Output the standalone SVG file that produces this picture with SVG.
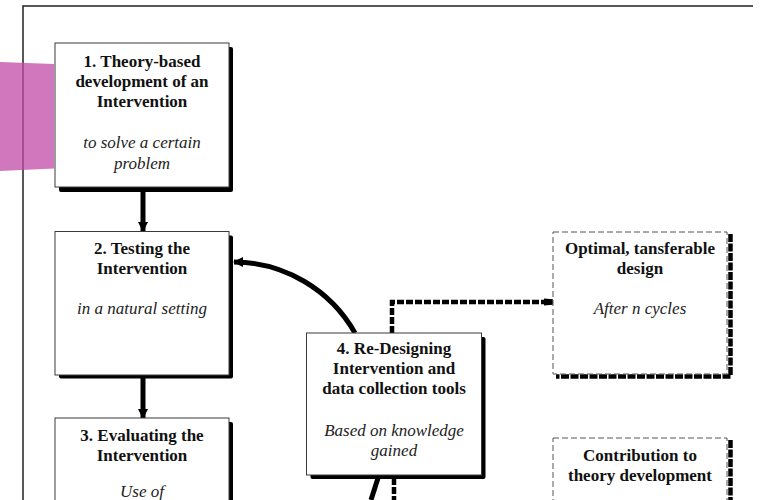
<svg xmlns="http://www.w3.org/2000/svg" width="761" height="500" viewBox="0 0 761 500">
  <defs>
    <style>
      .frame { fill: none; stroke: #222; stroke-width: 1.5; }
      .shadow { fill: #000; }
      .box { fill: #fff; stroke: #3a3a3a; stroke-width: 1; }
      .dbox { fill: #fff; stroke: #555; stroke-width: 1; stroke-dasharray: 6 3; }
      .dshadow { fill: none; stroke: #000; stroke-width: 4.5; stroke-dasharray: 8 1.5; stroke-linejoin: round; }
      .title { font-family: "Liberation Serif", "Times New Roman", serif; font-size: 17px; font-weight: bold; fill: #111; text-anchor: middle; }
      .sub { font-family: "Liberation Serif", "Times New Roman", serif; font-size: 17px; font-style: italic; fill: #222; text-anchor: middle; }
      .link { fill: none; stroke: #000; stroke-width: 5; }
      .dlink { fill: none; stroke: #000; stroke-width: 4.5; stroke-dasharray: 7 2; }
    </style>
    <marker id="head" viewBox="0 0 10 10" refX="9" refY="5" markerUnits="userSpaceOnUse" markerWidth="10" markerHeight="10" orient="auto">
      <path d="M0,0 L10,5 L0,10 z" fill="#000"/>
    </marker>
    <marker id="sq" viewBox="0 0 10 10" refX="9" refY="5" markerUnits="userSpaceOnUse" markerWidth="9" markerHeight="9" orient="auto">
      <path d="M0,1 L10,2 L10,8 L0,9 z" fill="#000"/>
    </marker>
  </defs>

  <rect width="761" height="500" fill="#fff"/>

  <!-- page frame -->
  <path class="frame" d="M23,500 V6 H753"/>

  <!-- side tab -->
  <path d="M0,62 L54,64 L54,168.5 L0,171 z" fill="#c04aa8" fill-opacity="0.75"/>

  <!-- connectors -->
  <g id="connectors">
    <line class="link" x1="143" y1="190" x2="143" y2="231" marker-end="url(#head)"/>
    <line class="link" x1="143" y1="378" x2="143" y2="418" marker-end="url(#head)"/>
    <path class="link" d="M355,333 A140,140 0 0 0 234,262" marker-end="url(#head)"/>
    <path class="dlink" d="M392,333 V302 H552" marker-end="url(#sq)"/>
    <line class="link" x1="378" y1="478" x2="371" y2="500"/>
    <line class="dlink" x1="394" y1="478" x2="394" y2="500"/>
  </g>

  <!-- step 1 -->
  <g id="node-1">
    <rect class="shadow" x="59" y="47" width="174" height="145" rx="2"/>
    <rect class="box" x="55" y="43" width="174" height="144"/>
    <text class="title" x="142" y="67">1. Theory-based</text>
    <text class="title" x="142" y="87">development of an</text>
    <text class="title" x="142" y="107">Intervention</text>
    <text class="sub" x="142" y="148">to solve a certain</text>
    <text class="sub" x="142" y="169">problem</text>
  </g>

  <!-- step 2 -->
  <g id="node-2">
    <rect class="shadow" x="59" y="235.5" width="174" height="143" rx="2"/>
    <rect class="box" x="55" y="231.5" width="174" height="143.5"/>
    <text class="title" x="142" y="253.5">2. Testing the</text>
    <text class="title" x="142" y="273.5">Intervention</text>
    <text class="sub" x="142" y="313.5">in a natural setting</text>
  </g>

  <!-- step 3 -->
  <g id="node-3">
    <rect class="shadow" x="59" y="422" width="174" height="100" rx="2"/>
    <rect class="box" x="55" y="418" width="174" height="100"/>
    <text class="title" x="142" y="440.5">3. Evaluating the</text>
    <text class="title" x="142" y="460.5">Intervention</text>
    <text class="sub" x="142" y="497">Use of</text>
  </g>

  <!-- step 4 -->
  <g id="node-4">
    <rect class="shadow" x="310.5" y="337" width="175" height="142" rx="2"/>
    <rect class="box" x="306.5" y="333" width="175" height="142"/>
    <text class="title" x="394" y="353.5">4. Re-Designing</text>
    <text class="title" x="394" y="373.5">Intervention and</text>
    <text class="title" x="394" y="393.5">data collection tools</text>
    <text class="sub" x="394" y="435.5">Based on knowledge</text>
    <text class="sub" x="394" y="455.5">gained</text>
  </g>

  <!-- outcome: design -->
  <g id="node-design">
    <path class="dshadow" d="M730.5,234 V376.5 H556"/>
    <rect class="dbox" x="553" y="232" width="174" height="142"/>
    <text class="title" x="640" y="253.5">Optimal, tansferable</text>
    <text class="title" x="640" y="273.5">design</text>
    <text class="sub" x="640" y="313.5">After n cycles</text>
  </g>

  <!-- outcome: theory -->
  <g id="node-theory">
    <path class="dshadow" d="M730.5,440 V510"/>
    <rect class="dbox" x="553" y="438" width="174" height="80"/>
    <text class="title" x="640" y="460.5">Contribution to</text>
    <text class="title" x="640" y="480.5">theory development</text>
  </g>
</svg>
